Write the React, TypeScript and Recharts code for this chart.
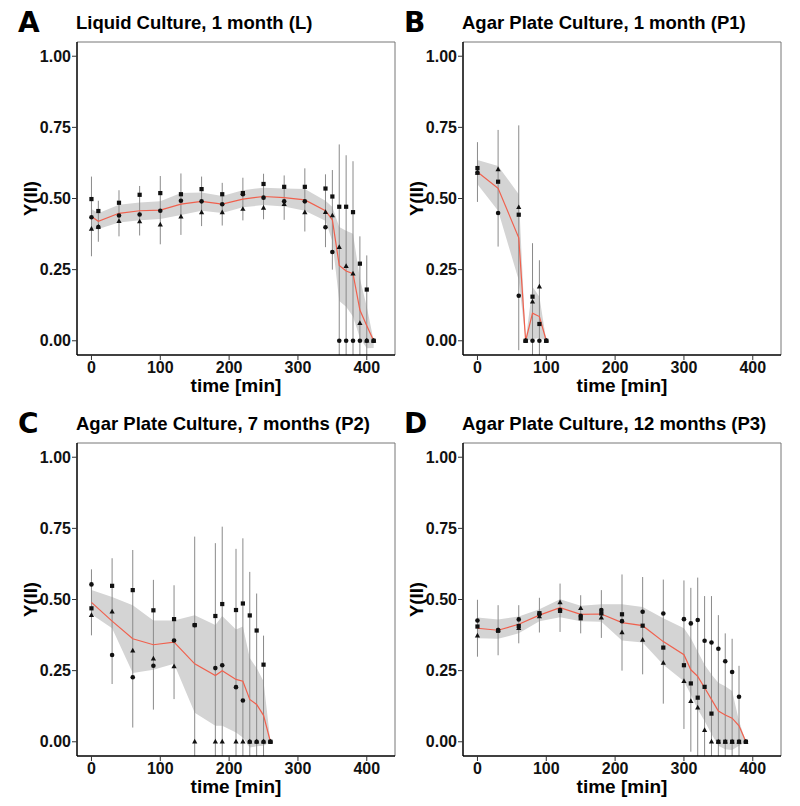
import React from "react";
import {
  ComposedChart,
  Area,
  Line,
  Scatter,
  XAxis,
  YAxis,
  ErrorBar,
  ReferenceLine,
} from "recharts";

// shared axes
const xTicks = [0, 100, 200, 300, 400];
const yTicks = [0, 0.25, 0.5, 0.75, 1];
const xDomain = [-21, 441];
const yDomain = [-0.05, 1.05];

// A – Liquid Culture, 1 month (L)
const timeA = [0, 10, 40, 70, 100, 130, 160, 190, 220, 250, 280, 310, 340, 350, 360, 370, 380, 390, 400, 410];
const meanA = [0.437, 0.42, 0.448, 0.457, 0.459, 0.48, 0.49, 0.48, 0.498, 0.507, 0.503, 0.495, 0.457, 0.425, 0.265, 0.245, 0.236, 0.108, 0.053, 0];
const loA = [0.39, 0.393, 0.416, 0.424, 0.428, 0.442, 0.457, 0.449, 0.469, 0.477, 0.472, 0.457, 0.422, 0.35, 0.14, 0.12, 0.085, 0.01, -0.026, -0.025];
const hiA = [0.463, 0.448, 0.478, 0.486, 0.49, 0.519, 0.521, 0.509, 0.529, 0.538, 0.535, 0.533, 0.492, 0.47, 0.4, 0.387, 0.376, 0.219, 0.12, 0];
const errA = [0.14, 0.072, 0.081, 0.087, 0.12, 0.108, 0.087, 0.075, 0.075, 0.08, 0.078, 0.111, 0.128, 0.175, 0.425, 0.407, 0.395, 0.259, 0.247, 0];
const sqA = [0.498, 0.456, 0.485, 0.513, 0.519, 0.515, 0.533, 0.515, 0.519, 0.551, 0.541, 0.541, 0.535, 0.507, 0.471, 0.471, 0.452, 0.271, 0.18, 0];
const circA = [0.434, 0.4, 0.44, 0.444, 0.457, 0.492, 0.49, 0.48, 0.515, 0.503, 0.49, 0.49, 0.399, 0.312, 0, 0, 0, 0, 0, 0];
const triA = [0.393, 0.4, 0.42, 0.419, 0.408, 0.436, 0.451, 0.451, 0.463, 0.467, 0.48, 0.451, 0.452, 0.44, 0.329, 0.262, 0.236, 0.062, 0, 0];

// B – Agar Plate Culture, 1 month (P1)
const timeB = [0, 30, 60, 70, 80, 90, 100];
const meanB = [0.593, 0.536, 0.362, 0, 0.097, 0.085, 0];
const loB = [0.55, 0.457, 0.213, 0, 0.005, 0.01, 0];
const hiB = [0.635, 0.614, 0.515, 0, 0.19, 0.155, 0];
const errB = [0.105, 0.205, 0.395, 0, 0.246, 0.198, 0];
const sqB = [0.607, 0.559, 0.443, 0, 0.155, 0.059, 0];
const circB = [0.591, 0.449, 0.158, 0, 0, 0, 0];
const triB = [0.59, 0.602, 0.469, 0, 0.137, 0.19, 0];

// C – Agar Plate Culture, 7 months (P2)
const timeC = [0, 30, 60, 90, 120, 150, 180, 190, 210, 220, 230, 240, 250, 260];
const meanC = [0.49, 0.424, 0.362, 0.341, 0.35, 0.274, 0.233, 0.25, 0.219, 0.213, 0.149, 0.131, 0.093, 0];
const loC = [0.448, 0.399, 0.242, 0.253, 0.274, 0.102, 0.056, 0.056, 0.033, 0.015, -0.02, -0.016, -0.014, 0];
const hiC = [0.533, 0.509, 0.48, 0.426, 0.426, 0.445, 0.41, 0.442, 0.395, 0.405, 0.294, 0.259, 0.213, 0];
const errC = [0.116, 0.221, 0.312, 0.228, 0.2, 0.447, 0.465, 0.506, 0.459, 0.502, 0.448, 0.39, 0.28, 0];
const sqC = [0.469, 0.548, 0.533, 0.462, 0.431, 0.41, 0.442, 0.484, 0.463, 0.486, 0.444, 0.391, 0.271, 0];
const circC = [0.553, 0.305, 0.227, 0.267, 0.356, 0.41, 0.259, 0.269, 0.192, 0.145, 0, 0, 0, 0];
const triC = [0.445, 0.457, 0.32, 0.292, 0.265, 0, 0, 0, 0, 0, 0, 0, 0, 0];

// D – Agar Plate Culture, 12 months (P3)
const timeD = [0, 30, 60, 90, 120, 150, 180, 210, 240, 270, 300, 310, 320, 330, 340, 350, 360, 370, 380, 390];
const meanD = [0.399, 0.392, 0.413, 0.445, 0.471, 0.448, 0.449, 0.419, 0.408, 0.352, 0.306, 0.253, 0.23, 0.19, 0.149, 0.108, 0.094, 0.083, 0.056, 0];
const loD = [0.364, 0.362, 0.381, 0.424, 0.438, 0.424, 0.422, 0.356, 0.349, 0.271, 0.213, 0.166, 0.114, 0.073, 0.027, -0.014, -0.026, -0.029, -0.014, 0];
const hiD = [0.437, 0.43, 0.44, 0.466, 0.501, 0.478, 0.483, 0.483, 0.474, 0.434, 0.399, 0.364, 0.317, 0.271, 0.236, 0.207, 0.195, 0.178, 0.073, 0];
const errD = [0.1, 0.088, 0.067, 0.061, 0.085, 0.067, 0.084, 0.169, 0.171, 0.218, 0.261, 0.288, 0.347, 0.322, 0.363, 0.337, 0.287, 0.279, 0.211, 0];
const circD = [0.426, 0.393, 0.43, 0.448, 0.463, 0.443, 0.463, 0.424, 0.457, 0.451, 0.431, 0.416, 0.428, 0.355, 0.349, 0.327, 0.283, 0.245, 0.158, 0];
const sqD = [0.405, 0.39, 0.407, 0.452, 0.46, 0.434, 0.451, 0.448, 0.408, 0.331, 0.269, 0.205, 0.155, 0.193, 0.099, 0, 0, 0, 0, 0];
const triD = [0.373, 0.392, 0.399, 0.44, 0.49, 0.469, 0.436, 0.384, 0.358, 0.277, 0.213, 0.143, 0.12, 0.041, 0, 0, 0, 0, 0, 0];

const font = "'Liberation Sans', Arial, Helvetica, sans-serif";
const W = 400;
const H = 400;
const M = { top: 42, right: 5, bottom: 0, left: 0 };
const Y_W = 77;
const X_H = 45;

const CircleDot = (p: any) => <circle cx={p.cx} cy={p.cy} r={2.3} fill="#111" />;
const SquareDot = (p: any) => (
  <rect x={p.cx - 2.1} y={p.cy - 2.1} width={4.2} height={4.2} fill="#111" />
);
const TriangleDot = (p: any) => (
  <path
    d={`M${p.cx},${p.cy - 2.9}L${p.cx + 2.6},${p.cy + 1.8}L${p.cx - 2.6},${p.cy + 1.8}Z`}
    fill="#111"
  />
);

const panels = [
  { letter: "A", title: "Liquid Culture, 1 month (L)", left: 0, top: 0, time: timeA, mean: meanA, lo: loA, hi: hiA, err: errA, circ: circA, sq: sqA, tri: triA },
  { letter: "B", title: "Agar Plate Culture, 1 month (P1)", left: 386, top: 0, time: timeB, mean: meanB, lo: loB, hi: hiB, err: errB, circ: circB, sq: sqB, tri: triB },
  { letter: "C", title: "Agar Plate Culture, 7 months (P2)", left: 0, top: 401, time: timeC, mean: meanC, lo: loC, hi: hiC, err: errC, circ: circC, sq: sqC, tri: triC },
  { letter: "D", title: "Agar Plate Culture, 12 months (P3)", left: 386, top: 401, time: timeD, mean: meanD, lo: loD, hi: hiD, err: errD, circ: circD, sq: sqD, tri: triD },
];

const tickStyle = { fontSize: 16, fontWeight: 700, fill: "#111", fontFamily: font };

function Panel({ p }: { p: (typeof panels)[number] }) {
  // error bars are cut at the panel edge, like ggplot does
  const rows = p.time.map((t, i) => ({
    t,
    mean: p.mean[i],
    band: [p.lo[i], p.hi[i]],
    err: [
      Math.min(p.err[i], p.mean[i] - yDomain[0]),
      Math.min(p.err[i], yDomain[1] - p.mean[i]),
    ],
    circ: p.circ[i],
    sq: p.sq[i],
    tri: p.tri[i],
  }));

  return (
    <div style={{ position: "absolute", left: p.left, top: p.top }}>
      <ComposedChart width={W} height={H} data={rows} margin={M}>
        <XAxis
          dataKey="t"
          type="number"
          domain={xDomain}
          ticks={xTicks}
          allowDataOverflow
          height={X_H}
          tickSize={5}
          tickMargin={2}
          tick={tickStyle}
          axisLine={{ stroke: "#000", strokeWidth: 1.5 }}
          tickLine={{ stroke: "#333" }}
        />
        <YAxis
          type="number"
          domain={yDomain}
          ticks={yTicks}
          allowDataOverflow
          width={Y_W}
          tickSize={5}
          tickMargin={1}
          tickFormatter={(v: number) => v.toFixed(2)}
          tick={tickStyle}
          axisLine={{ stroke: "#000", strokeWidth: 1.5 }}
          tickLine={{ stroke: "#333" }}
        />
        <ReferenceLine y={yDomain[1]} stroke="#777" strokeWidth={1} />
        <ReferenceLine x={xDomain[1]} stroke="#777" strokeWidth={1} />
        <Area
          dataKey="band"
          type="linear"
          stroke="none"
          fill="#d4d4d4"
          fillOpacity={1}
          isAnimationActive={false}
        />
        <Line
          dataKey="mean"
          stroke="none"
          dot={false}
          activeDot={false}
          isAnimationActive={false}
        >
          <ErrorBar dataKey="err" direction="y" width={0} stroke="#8a8a8a" strokeWidth={1} />
        </Line>
        <Scatter dataKey="tri" shape={TriangleDot} isAnimationActive={false} />
        <Scatter dataKey="circ" shape={CircleDot} isAnimationActive={false} />
        <Scatter dataKey="sq" shape={SquareDot} isAnimationActive={false} />
        <Line
          dataKey="mean"
          type="linear"
          stroke="#f0604d"
          strokeWidth={1.2}
          dot={false}
          activeDot={false}
          isAnimationActive={false}
        />
      </ComposedChart>
    </div>
  );
}

export default function App() {
  return (
    <div
      style={{
        position: "absolute",
        left: 0,
        top: 0,
        width: 800,
        height: 806,
        background: "#fff",
        fontFamily: font,
      }}
    >
      {panels.map((p) => (
        <Panel key={p.letter} p={p} />
      ))}
      <svg
        width={800}
        height={806}
        style={{ position: "absolute", left: 0, top: 0, pointerEvents: "none" }}
      >
        {panels.map((p) => {
          const pl = p.left + Y_W;
          const pr = p.left + W - M.right;
          const pt = p.top + M.top;
          const pb = p.top + H - X_H;
          return (
            <g key={p.letter} fill="#000" fontWeight={700}>
              <text x={pl - 59} y={pt - 10} fontSize={28} fontFamily="'DejaVu Sans', sans-serif">
                {p.letter}
              </text>
              <text x={pl - 1} y={pt - 13} fontSize={18.5} fontFamily={font}>
                {p.title}
              </text>
              <text
                x={pl - 47}
                y={(pt + pb) / 2}
                fontSize={18.5}
                fontFamily={font}
                textAnchor="middle"
                dominantBaseline="central"
                transform={`rotate(-90 ${pl - 47} ${(pt + pb) / 2})`}
              >
                Y(II)
              </text>
              <text x={(pl + pr) / 2} y={pb + 37} fontSize={19} fontFamily={font} textAnchor="middle">
                time [min]
              </text>
            </g>
          );
        })}
      </svg>
    </div>
  );
}
